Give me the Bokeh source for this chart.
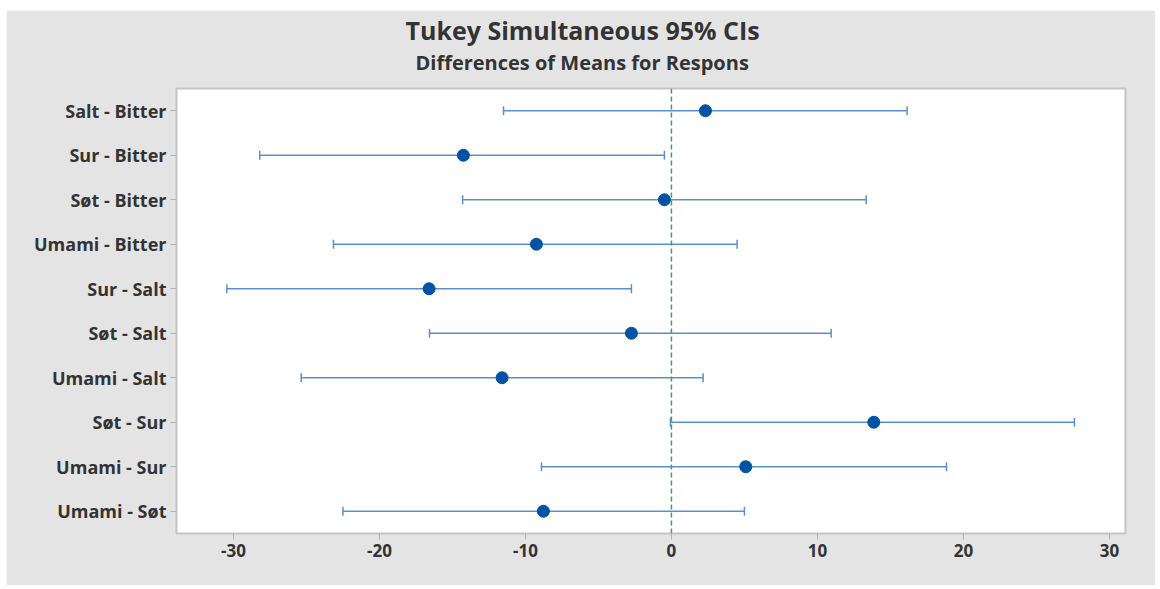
from bokeh.plotting import figure
from bokeh.models import (ColumnDataSource, Whisker, TeeHead, Span, Title, FixedTicker,
                          Range1d, FactorRange, NumeralTickFormatter)
from bokeh.embed import file_html
from bokeh.resources import INLINE

comparisons = ["Salt - Bitter", "Sur - Bitter", "Søt - Bitter", "Umami - Bitter",
               "Sur - Salt", "Søt - Salt", "Umami - Salt", "Søt - Sur",
               "Umami - Sur", "Umami - Søt"]
means = [2.33, -14.25, -0.48, -9.25, -16.6, -2.74, -11.6, 13.86, 5.09, -8.77]
lowers = [-11.5, -28.2, -14.3, -23.15, -30.45, -16.57, -25.36, -0.07, -8.9, -22.5]
uppers = [16.14, -0.48, 13.34, 4.5, -2.74, 10.94, 2.17, 27.6, 18.84, 5.0]
x_ticks = [-30, -20, -10, 0, 10, 20, 30]
title_text = "Tukey Simultaneous 95% CIs"
subtitle_text = "Differences of Means for Respons"

FONT = "Open Sans"
TXT = "#333333"

src = ColumnDataSource(dict(comp=comparisons, mean=means, lo=lowers, hi=uppers))

p = figure(width=1149, height=575, output_backend="svg", toolbar_location=None,
           y_range=FactorRange(factors=list(reversed(comparisons))),
           x_range=Range1d(-33.9, 31.1),
           min_border_left=170, min_border_right=30, min_border_top=78, min_border_bottom=52)
p.margin = (10, 5, 4, 6)

p.background_fill_color = "white"
p.border_fill_color = "#e4e4e4"
p.outline_line_color = "#c4c4c4"
p.outline_line_width = 2
p.grid.visible = False

# spacer between frame and subtitle
p.add_layout(Title(text=" ", text_font_size="1px", standoff=10), "above")
p.add_layout(Title(text=subtitle_text, align="left", offset=239, standoff=0,
                   text_font=FONT, text_font_size="20px", text_font_style="bold",
                   text_color=TXT), "above")
p.add_layout(Title(text=title_text, align="left", offset=229, standoff=0,
                   text_font=FONT, text_font_size="25px", text_font_style="bold",
                   text_color=TXT), "above")

zero = Span(location=0, dimension="height", line_color="#36a94a", line_dash="5 3", line_width=1.5)
p.add_layout(zero)

w = Whisker(source=src, base="comp", lower="lo", upper="hi", dimension="width",
            line_color="#5b8fd0", line_width=1.5,
            lower_head=TeeHead(size=9, line_color="#5b8fd0", line_width=1.5),
            upper_head=TeeHead(size=9, line_color="#5b8fd0", line_width=1.5))
p.add_layout(w)

p.scatter(x="mean", y="comp", source=src, size=12, marker="circle",
          fill_color="#0052a3", line_color="#0052a3")

for ax in (p.xaxis[0], p.yaxis[0]):
    ax.axis_line_color = None
    ax.major_tick_line_color = "#b0b0b0"
    ax.major_tick_out = 6
    ax.major_tick_in = 0
    ax.minor_tick_line_color = None
    ax.major_label_text_font = FONT
    ax.major_label_text_font_style = "bold"
    ax.major_label_text_color = TXT

p.yaxis[0].major_label_text_font_size = "18px"
p.xaxis[0].major_label_text_font_size = "17px"
p.xaxis[0].ticker = FixedTicker(ticks=x_ticks)
p.xaxis[0].formatter = NumeralTickFormatter(format="0")
p.xaxis[0].major_label_standoff = 4
p.yaxis[0].major_label_standoff = 4

open("out.html", "w").write(file_html(p, INLINE))
